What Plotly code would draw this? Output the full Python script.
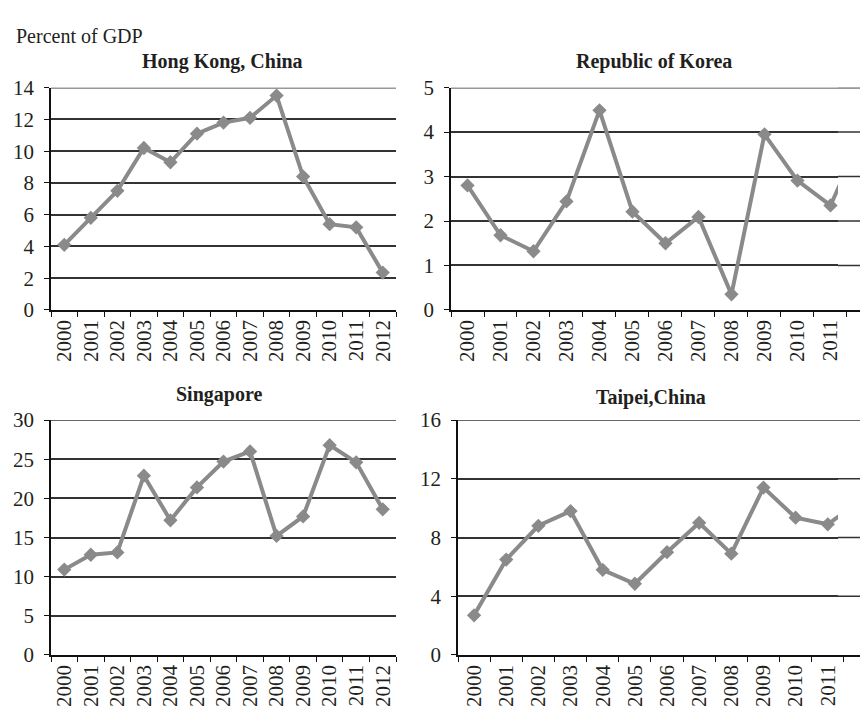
import plotly.graph_objects as go

# ---------------- data ----------------
years = ["2000", "2001", "2002", "2003", "2004", "2005", "2006",
         "2007", "2008", "2009", "2010", "2011", "2012"]
left_tick_labels = ["2000", "2001", "2002", "2003", "2004", "2005", "2006",
                    "2007", "2008", "2009", "2010", "2011", "2012"]
# the right-hand panels are cut off at the 2012 label in the original
right_tick_labels = ["2000", "2001", "2002", "2003", "2004", "2005", "2006",
                     "2007", "2008", "2009", "2010", "2011", ""]

hong_kong = [4.1, 5.8, 7.5, 10.2, 9.3, 11.1, 11.8, 12.1, 13.5, 8.4, 5.4, 5.2, 2.35]
korea = [2.8, 1.68, 1.32, 2.44, 4.49, 2.21, 1.5, 2.09, 0.35, 3.95, 2.91, 2.35, 4.0]
singapore = [10.9, 12.8, 13.1, 22.9, 17.2, 21.4, 24.7, 26.0, 15.2, 17.7, 26.8, 24.6, 18.6]
taipei = [2.7, 6.5, 8.8, 9.8, 5.8, 4.85, 7.0, 9.0, 6.9, 11.4, 9.35, 8.9, 10.5]

titles = ["Hong Kong, China", "Republic of Korea", "Singapore", "Taipei,China"]
y_label = "Percent of GDP"

hk_ticks = [0, 2, 4, 6, 8, 10, 12, 14]
kr_ticks = [0, 1, 2, 3, 4, 5]
sg_ticks = [0, 5, 10, 15, 20, 25, 30]
tw_ticks = [0, 4, 8, 12, 16]

# ---------------- styling ----------------
W, H = 868, 715
FONT = "Liberation Serif, Times New Roman, serif"
TXT = "#231f20"
LINE = "#8a8a8a"
GRID = "#333333"


def px_x(p):
    return p / W


def px_y(p):
    return 1 - p / H


fig = go.Figure()

panels = [
    dict(vals=hong_kong, ticks=hk_ticks, labels=left_tick_labels, xs="x", ys="y",
         xdom=[px_x(43), px_x(388)], ydom=[px_y(300), px_y(70)], xr=[-0.5, 12.5]),
    dict(vals=korea, ticks=kr_ticks, labels=right_tick_labels, xs="x2", ys="y2",
         xdom=[px_x(443), 1.0], ydom=[px_y(300), px_y(70)], xr=[-0.5, 12.38]),
    dict(vals=singapore, ticks=sg_ticks, labels=left_tick_labels, xs="x3", ys="y3",
         xdom=[px_x(43), px_x(388)], ydom=[px_y(657), px_y(414)], xr=[-0.5, 12.5]),
    dict(vals=taipei, ticks=tw_ticks, labels=right_tick_labels, xs="x4", ys="y4",
         xdom=[px_x(450), 1.0], ydom=[px_y(657), px_y(414)], xr=[-0.5, 12.5]),
]

layout_axes = {}
shapes = []
for i, p in enumerate(panels):
    fig.add_trace(go.Scatter(
        x=years, y=p["vals"], xaxis=p["xs"], yaxis=p["ys"],
        mode="lines+markers",
        line=dict(color=LINE, width=4),
        marker=dict(symbol="diamond", size=11, color=LINE),
        showlegend=False, hoverinfo="x+y",
    ))
    xname = "xaxis" if i == 0 else f"xaxis{i+1}"
    yname = "yaxis" if i == 0 else f"yaxis{i+1}"
    layout_axes[xname] = dict(
        domain=p["xdom"], anchor=p["ys"], type="category",
        categoryorder="array", categoryarray=years,
        range=p["xr"], tickmode="array", tickvals=years, ticktext=p["labels"],
        tickson="boundaries", ticks="outside", ticklen=5, tickwidth=1.2,
        tickcolor="#111", tickangle=-90,
        showline=True, linecolor="#111", linewidth=1.5,
        showgrid=False, zeroline=False,
        tickfont=dict(family=FONT, size=21, color=TXT),
        fixedrange=True,
    )
    top = p["ticks"][-1]
    layout_axes[yname] = dict(
        domain=p["ydom"], anchor=p["xs"],
        range=[p["ticks"][0], top], tickmode="array", tickvals=p["ticks"],
        ticks="outside", ticklen=5, tickwidth=1.2, tickcolor="#111",
        showline=True, linecolor="#111", linewidth=1.5,
        showgrid=True, gridcolor=GRID, gridwidth=1.5, zeroline=False,
        tickfont=dict(family=FONT, size=21, color=TXT),
        ticklabelstandoff=6,
        fixedrange=True,
    )
    # top gridline (plotly drops gridlines sitting on the plot edge)
    shapes.append(dict(type="line", xref=f"{p['xs']} domain", yref=p["ys"],
                       x0=0, x1=1, y0=top, y1=top,
                       line=dict(color=GRID, width=1.5), layer="below"))

# mask reproducing the cut-off right edge of the right-hand panels
mask_x0 = px_x(830)
for p in (panels[1], panels[3]):
    shapes.append(dict(type="rect", xref="paper", yref=f"{p['ys']} domain",
                       x0=mask_x0, x1=1.0, y0=0.006, y1=1.0,
                       fillcolor="white", line=dict(width=0), layer="above"))
    for t in p["ticks"][1:]:
        shapes.append(dict(type="line", xref="paper", yref=p["ys"],
                           x0=mask_x0, x1=1.0, y0=t, y1=t,
                           line=dict(color=GRID, width=1.5), layer="above"))

annotations = [
    dict(text=y_label, x=px_x(6), y=px_y(17), xref="paper", yref="paper",
         xanchor="left", yanchor="middle", showarrow=False,
         font=dict(family=FONT, size=20, color=TXT)),
]
title_pos = [(214, 43), (646, 43), (211, 388), (643, 391)]
for t, (tx, ty) in zip(titles, title_pos):
    annotations.append(dict(text=f"<b>{t}</b>", x=px_x(tx), y=px_y(ty),
                            xref="paper", yref="paper", xanchor="center",
                            yanchor="middle", showarrow=False,
                            font=dict(family=FONT, size=20, color=TXT)))

fig.update_layout(
    width=W, height=H,
    margin=dict(l=0, r=0, t=0, b=0),
    paper_bgcolor="white", plot_bgcolor="white",
    font=dict(family=FONT, color=TXT),
    shapes=shapes, annotations=annotations,
    **layout_axes,
)

fig.write_html("out.html")
